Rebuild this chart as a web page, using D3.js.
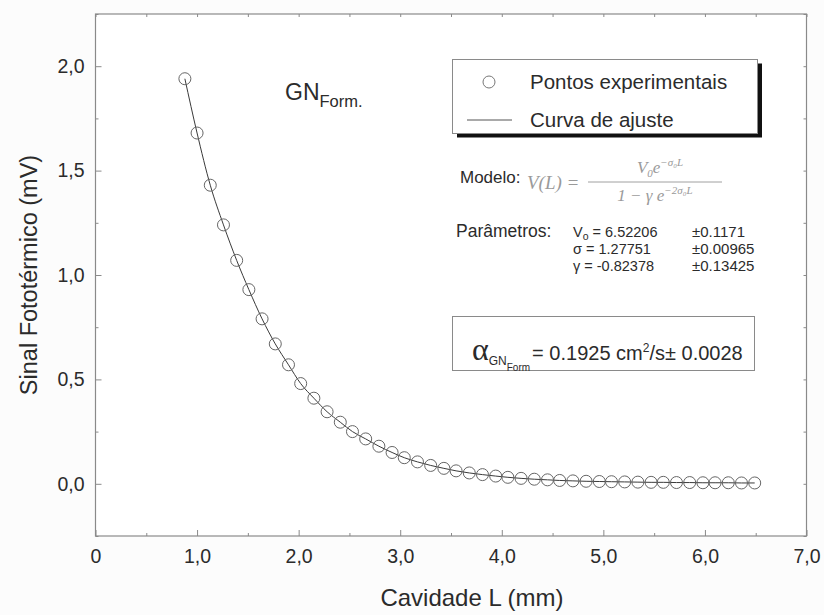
<!DOCTYPE html>
<html>
<head>
<meta charset="utf-8">
<script src="https://cdn.jsdelivr.net/npm/d3@7"></script>
<style>
  body { margin: 0; background: #fcfcfc; }
  svg { display: block; font-family: "Liberation Sans", Arial, sans-serif; }
</style>
</head>
<body>
<svg id="plot"></svg>
<script>
//Data
const cavidade = [0.88, 1.00, 1.13, 1.26, 1.39, 1.51, 1.64, 1.77, 1.90, 2.02,
    2.15, 2.28, 2.41, 2.53, 2.66, 2.79, 2.92, 3.04, 3.17, 3.30,
    3.43, 3.55, 3.68, 3.81, 3.94, 4.06, 4.19, 4.32, 4.45, 4.57,
    4.70, 4.83, 4.96, 5.08, 5.21, 5.34, 5.47, 5.59, 5.72, 5.85,
    5.98, 6.10, 6.23, 6.36, 6.49];
const sinal = [1.94, 1.68, 1.43, 1.24, 1.07, 0.93, 0.79, 0.67, 0.57, 0.48,
    0.41, 0.345, 0.295, 0.25, 0.215, 0.18, 0.15, 0.125, 0.105, 0.088,
    0.074, 0.062, 0.052, 0.044, 0.037, 0.031, 0.026, 0.022, 0.019, 0.016,
    0.014, 0.012, 0.011, 0.010, 0.009, 0.008, 0.007, 0.007, 0.006, 0.006,
    0.005, 0.005, 0.005, 0.004, 0.004];

const xTicks = [0, 1, 2, 3, 4, 5, 6, 7];
const xMinor = [0.5, 1.5, 2.5, 3.5, 4.5, 5.5, 6.5];
const yTicks = [0, 0.5, 1, 1.5, 2];
const yMinor = [-0.25, 0.25, 0.75, 1.25, 1.75, 2.25];

const legendLabels = ["Pontos experimentais", "Curva de ajuste"];
const paramNames = ["V", "σ", "γ"];
const paramSubs = ["o", "", ""];
const paramValues = ["6.52206", "1.27751", "-0.82378"];
const paramErrors = ["±0.1171", "±0.00965", "±0.13425"];

//Set the width and height of the svg
const width = 824;
const height = 615;
const textColor = "#2b2b2b";
const frameColor = "#8a8a8a";

const svg = d3.select("#plot")
    .attr("width", width)
    .attr("height", height);

//Scales
const x = d3.scaleLinear().domain([0, 7]).range([95.5, 806.5]);
const y = d3.scaleLinear().domain([-0.25, 2.25]).range([536, 14]);

//Frame
svg.append("rect")
    .attr("x", x(0))
    .attr("y", y(2.25))
    .attr("width", x(7) - x(0))
    .attr("height", y(-0.25) - y(2.25))
    .attr("fill", "white")
    .attr("stroke", frameColor)
    .attr("stroke-width", 1.2);

//Axes (ticks point inward)
function styleAxis(g) {
    g.select(".domain").remove();
    g.selectAll(".tick line").attr("stroke", frameColor);
    g.selectAll(".tick text")
        .attr("fill", textColor)
        .attr("font-size", 19.5)
        .attr("font-family", "Liberation Sans, Arial, sans-serif");
}

svg.append("g")
    .attr("transform", `translate(0,${y(-0.25)})`)
    .call(d3.axisBottom(x).tickValues(xTicks).tickSize(-6).tickPadding(13)
        .tickFormat((d) => d === 0 ? "0" : d3.format(".1f")(d).replace(".", ",")))
    .call(styleAxis);
svg.append("g")
    .attr("transform", `translate(0,${y(-0.25)})`)
    .call(d3.axisBottom(x).tickValues(xMinor).tickSize(-3).tickFormat(""))
    .call(styleAxis);

svg.append("g")
    .attr("transform", `translate(${x(0)},0)`)
    .call(d3.axisLeft(y).tickValues(yTicks).tickSize(-6).tickPadding(11)
        .tickFormat((d) => d3.format(".1f")(d).replace(".", ",")))
    .call(styleAxis);
svg.append("g")
    .attr("transform", `translate(${x(0)},0)`)
    .call(d3.axisLeft(y).tickValues(yMinor).tickSize(-3).tickFormat(""))
    .call(styleAxis);

//Mirror ticks on top and right
svg.append("g")
    .attr("transform", `translate(0,${y(2.25)})`)
    .call(d3.axisTop(x).tickValues(xTicks.concat(xMinor)).tickSize(-3).tickFormat(""))
    .call(styleAxis);
svg.append("g")
    .attr("transform", `translate(${x(7)},0)`)
    .call(d3.axisRight(y).tickValues(yTicks.concat(yMinor)).tickSize(-3).tickFormat(""))
    .call(styleAxis);

//Axis titles
svg.append("text")
    .attr("x", 472)
    .attr("y", 606)
    .attr("text-anchor", "middle")
    .attr("font-size", 24)
    .attr("fill", textColor)
    .text("Cavidade L (mm)");

svg.append("text")
    .attr("transform", `translate(37,${(y(2.25) + y(-0.25)) / 2}) rotate(-90)`)
    .attr("text-anchor", "middle")
    .attr("font-size", 23.5)
    .attr("fill", textColor)
    .text("Sinal Fototérmico (mV)");

//Fit curve and points
const pts = cavidade.map((d, i) => [d, sinal[i]]);

svg.append("path")
    .datum(pts)
    .attr("fill", "none")
    .attr("stroke", "#3a3a3a")
    .attr("stroke-width", 1)
    .attr("d", d3.line().x((d) => x(d[0])).y((d) => y(d[1])).curve(d3.curveMonotoneX));

svg.selectAll(".pt")
    .data(pts)
    .enter()
    .append("circle")
    .attr("class", "pt")
    .attr("cx", (d) => x(d[0]))
    .attr("cy", (d) => y(d[1]))
    .attr("r", 6)
    .attr("fill", "none")
    .attr("stroke", "#666")
    .attr("stroke-width", 1);

//Sample label
const gn = svg.append("text")
    .attr("x", 285)
    .attr("y", 100)
    .attr("fill", textColor)
    .attr("font-size", 23);
gn.append("tspan").text("GN");
gn.append("tspan").attr("dy", 7).attr("font-size", 16.5).text("Form.");

//Legend
svg.append("rect")
    .attr("x", 457).attr("y", 63.5)
    .attr("width", 305).attr("height", 74)
    .attr("fill", "#111");
svg.append("rect")
    .attr("x", 452.5).attr("y", 59.5)
    .attr("width", 305).attr("height", 74)
    .attr("fill", "white")
    .attr("stroke", frameColor);

svg.append("circle")
    .attr("cx", 489).attr("cy", 82).attr("r", 6)
    .attr("fill", "none").attr("stroke", "#777");
svg.append("line")
    .attr("x1", 467).attr("x2", 512)
    .attr("y1", 120).attr("y2", 120)
    .attr("stroke", "#555");

svg.selectAll(".legend-labels")
    .data(legendLabels)
    .enter()
    .append("text")
    .attr("x", 530)
    .attr("y", (d, i) => 89 + 38 * i)
    .attr("font-size", 20.5)
    .attr("fill", textColor)
    .text((d) => d);

//Model
svg.append("text")
    .attr("x", 460).attr("y", 183)
    .attr("font-size", 17).attr("fill", textColor)
    .text("Modelo:");

const serif = "Liberation Serif, DejaVu Serif, serif";
svg.append("text")
    .attr("x", 527).attr("y", 189)
    .attr("font-family", serif).attr("font-style", "italic")
    .attr("font-size", 19).attr("fill", "#9a9a9a")
    .text("V(L) =");

const num = svg.append("text")
    .attr("x", 660).attr("y", 173)
    .attr("text-anchor", "middle")
    .attr("font-family", serif).attr("font-style", "italic")
    .attr("font-size", 17).attr("fill", "#9a9a9a");
num.append("tspan").text("V");
num.append("tspan").attr("font-size", 11).attr("dy", 4).text("0");
num.append("tspan").attr("dy", -4).text("e");
num.append("tspan").attr("font-size", 11).attr("dy", -7).text("−σ₀L");

svg.append("line")
    .attr("x1", 588).attr("x2", 722)
    .attr("y1", 182).attr("y2", 182)
    .attr("stroke", "#a0a0a0");

const den = svg.append("text")
    .attr("x", 655).attr("y", 201)
    .attr("text-anchor", "middle")
    .attr("font-family", serif).attr("font-style", "italic")
    .attr("font-size", 17).attr("fill", "#9a9a9a");
den.append("tspan").text("1 − γ e");
den.append("tspan").attr("font-size", 11).attr("dy", -7).text("−2σ₀L");

//Parameters
svg.append("text")
    .attr("x", 456).attr("y", 237)
    .attr("font-size", 17.5).attr("fill", textColor)
    .text("Parâmetros:");

paramNames.forEach((name, i) => {
    const row = svg.append("text")
        .attr("x", 573).attr("y", 237 + 17 * i)
        .attr("font-size", 14.5).attr("fill", textColor);
    row.append("tspan").text(name);
    if (paramSubs[i]) {
        row.append("tspan").attr("font-size", 10.5).attr("dy", 3).text(paramSubs[i]);
        row.append("tspan").attr("dy", -3).text(" = " + paramValues[i]);
    } else {
        row.append("tspan").text("  = " + paramValues[i]);
    }
    svg.append("text")
        .attr("x", 692).attr("y", 237 + 17 * i)
        .attr("font-size", 15).attr("fill", textColor)
        .text(paramErrors[i]);
});

//Diffusivity box
svg.append("rect")
    .attr("x", 452.5).attr("y", 316.5)
    .attr("width", 302).attr("height", 54)
    .attr("fill", "white")
    .attr("stroke", frameColor);

const alpha = svg.append("text")
    .attr("x", 472).attr("y", 360)
    .attr("fill", textColor);
alpha.append("tspan").attr("font-family", serif).attr("font-size", 32).text("α");
alpha.append("tspan").attr("font-size", 12).attr("dy", 5).text("GN");
alpha.append("tspan").attr("font-size", 10).attr("dy", 6).text("Form");
alpha.append("tspan").attr("font-size", 20).attr("dy", -11).attr("dx", 2).text("= 0.1925 cm");
alpha.append("tspan").attr("font-size", 12).attr("dy", -8).text("2");
alpha.append("tspan").attr("font-size", 20).attr("dy", 8).text("/s± 0.0028");
</script>
</body>
</html>
